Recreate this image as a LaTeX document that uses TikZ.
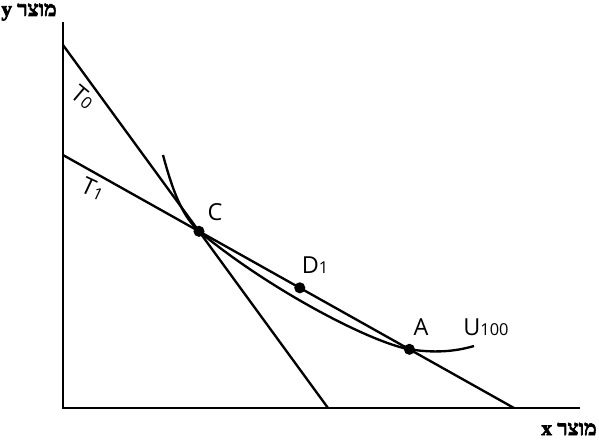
\documentclass[tikz,border=0pt]{standalone}
\usepackage{fontspec}
\setmainfont{Open Sans}
\newfontfamily\hebfont[Script=Hebrew,BoldFeatures={FakeBold=3}]{Liberation Serif}
\TeXXeTstate=1
\usetikzlibrary{calc}

\newcommand{\sublbl}[1]{{\fontsize{14}{16}\selectfont #1}}

\begin{document}
\begin{tikzpicture}[
    x=0.03cm, y=-0.03cm,
    axis/.style={line width=1.6pt},
    budget/.style={line width=2pt},
    curve/.style={line width=2pt},
    dot/.style={circle, fill=black, inner sep=0pt, minimum size=9.5pt},
    lbl/.style={font=\fontsize{20}{24}\selectfont, inner sep=0pt},
    axlbl/.style={font=\hebfont\bfseries\fontsize{18}{21}\selectfont, inner sep=0pt}
]
    \useasboundingbox (0,0) rectangle (599,441);

    % Axes
    \coordinate (o) at (63,408);
    \coordinate (ytop) at (63,22);
    \coordinate (xend) at (580,408);
    \draw[axis] (ytop) -- (o) -- (xend);
    \node[axlbl] (ylab) at (29,12) {\beginR מוצר y\endR};
    \node[axlbl] (xlab) at (569,429) {\beginR מוצר x\endR};

    % Budget lines
    \coordinate (t0a) at (63,45);
    \coordinate (t0b) at (328,408);
    \coordinate (t1a) at (63,155);
    \coordinate (t1b) at (514,408);
    \draw[budget] (t0a) -- (t0b);
    \draw[budget] (t1a) -- (t1b);
    \node[lbl, rotate=-40] (lT0) at (83,97) {T\sublbl{0}};
    \node[lbl, rotate=-25] (lT1) at (93,189) {T\sublbl{1}};

    % Points on T1
    \coordinate (C) at (intersection of t0a--t0b and t1a--t1b);
    \coordinate (D) at ($(t1a)!0.525!(t1b)$);
    \coordinate (A) at ($(t1a)!0.768!(t1b)$);

    % Indifference curve
    \coordinate (u0) at (163,155);
    \coordinate (u1) at (474,346);
    \draw[curve] (u0) .. controls (175,200) and (185,218) .. (C)
        .. controls (270,290) and (370,342) .. (A)
        .. controls (440,354) and (460,350) .. (u1);
    \node[lbl] (lU) at (486,327) {U\sublbl{100}};

    % Dots and labels
    \node[dot] (dC) at (C) {};
    \node[dot] (dD) at (D) {};
    \node[dot] (dA) at (A) {};
    \node[lbl] (lC) at (215,212) {C};
    \node[lbl] (lD) at (315,265) {D\sublbl{1}};
    \node[lbl] (lA) at (421,327) {A};
\end{tikzpicture}
\end{document}
